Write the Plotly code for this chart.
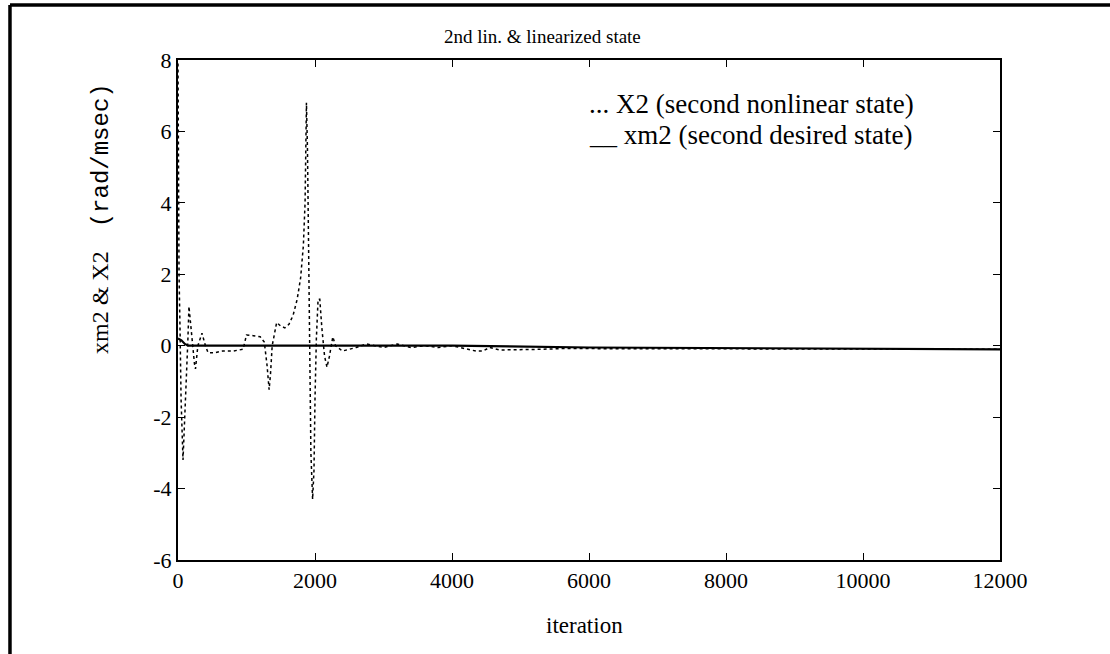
import plotly.graph_objects as go

# X2: second nonlinear state (dotted)
x2_iter = [0, 15, 30, 45, 73, 100, 125, 145, 160, 185, 210, 240, 255, 290, 350, 400, 440, 520, 650, 800,
           950, 1000, 1100, 1200, 1260, 1300, 1330, 1350, 1375, 1400, 1440, 1500, 1560, 1620, 1680, 1740,
           1790, 1830, 1855, 1875, 1890, 1905, 1915, 1925, 1940, 1965, 1985, 2000, 2020, 2045, 2070, 2100,
           2140, 2175, 2210, 2260, 2300, 2400, 2500, 2600, 2750, 3000, 3200, 3400, 3600, 3800, 4000, 4350,
           4450, 4550, 4700, 5000, 5300, 5600, 6000, 8000, 10000, 12000]
x2_vals = [7.9, 2.0, 0.4, -1.5, -3.2, -2.0, -1.0, 0.2, 1.1, 0.6, 0.0, -0.5, -0.65, 0.0, 0.35, 0.0, -0.2, -0.2, -0.15, -0.15,
           -0.1, 0.3, 0.28, 0.25, 0.1, -0.55, -1.23, -0.8, 0.0, 0.3, 0.65, 0.55, 0.5, 0.6, 0.85, 1.3,
           1.9, 2.8, 4.0, 6.8, 5.5, 3.0, 1.0, -1.0, -3.0, -4.3, -3.5, -1.5, 0.2, 1.3, 1.3, 0.5,
           -0.3, -0.6, -0.3, 0.25, 0.0, -0.15, -0.1, -0.05, 0.05, -0.05, 0.05, -0.05, 0.0, -0.05, 0.0, -0.15,
           -0.15, -0.05, -0.12, -0.12, -0.1, -0.08, -0.08, -0.08, -0.1, -0.1]

# xm2: second desired state (solid)
xm2_iter = [0, 50, 100, 150, 2000, 4000, 6000, 9000, 12000]
xm2_vals = [0.2, 0.15, 0.05, 0.0, 0.0, 0.0, -0.05, -0.08, -0.1]

x_ticks = [0, 2000, 4000, 6000, 8000, 10000, 12000]
y_ticks = [-6, -4, -2, 0, 2, 4, 6, 8]

SERIF = "Liberation Serif"

fig = go.Figure()
fig.add_trace(go.Scatter(x=x2_iter, y=x2_vals, mode="lines",
                         line=dict(color="black", width=1.5, dash="dot"),
                         showlegend=False))
fig.add_trace(go.Scatter(x=xm2_iter, y=xm2_vals, mode="lines",
                         line=dict(color="black", width=2.2),
                         showlegend=False))

axis_common = dict(showgrid=False, zeroline=False, showline=True, linecolor="black", linewidth=2,
                   mirror="ticks", ticks="inside", ticklen=7, tickwidth=1.2, tickcolor="black",
                   tickfont=dict(family=SERIF, size=22, color="black"))

fig.update_xaxes(range=[0, 12000], tickvals=x_ticks, ticktext=[str(v) for v in x_ticks], **axis_common)
fig.update_yaxes(range=[-6, 8], tickvals=y_ticks, ticktext=[str(v) for v in y_ticks], **axis_common)

annotations = [
    dict(text="2nd lin. &amp; linearized state", x=0.443, y=1.046, xref="paper", yref="paper",
         showarrow=False, font=dict(family=SERIF, size=19, color="black"), xanchor="center", yanchor="middle"),
    dict(text="iteration", x=0.495, y=-0.13, xref="paper", yref="paper",
         showarrow=False, font=dict(family=SERIF, size=23, color="black"), xanchor="center", yanchor="middle"),
    dict(text='xm2 &amp; X2&nbsp;&nbsp;&nbsp;&nbsp;<span style="font-family:Liberation Mono;font-size:24px">(rad/msec)</span>',
         x=-0.0937, y=0.684, xref="paper", yref="paper", textangle=-90,
         showarrow=False, font=dict(family=SERIF, size=24, color="black"), xanchor="center", yanchor="middle"),
    dict(text="... X2 (second nonlinear state)", x=0.4976, y=0.912, xref="paper", yref="paper",
         showarrow=False, font=dict(family=SERIF, size=27, color="black"), xanchor="left", yanchor="middle"),
    dict(text="__ xm2 (second desired state)", x=0.4976, y=0.850, xref="paper", yref="paper",
         showarrow=False, font=dict(family=SERIF, size=27, color="black"), xanchor="left", yanchor="middle"),
]

shapes = [
    dict(type="line", xref="paper", yref="paper", x0=-0.2044, x1=1.14, y0=1.110, y1=1.110,
         line=dict(color="black", width=3.5)),
    dict(type="line", xref="paper", yref="paper", x0=-0.2044, x1=-0.2044, y0=1.110, y1=-0.2,
         line=dict(color="black", width=3.5)),
]

fig.update_layout(
    width=1110, height=654,
    margin=dict(l=178, r=110, t=60, b=94),
    paper_bgcolor="white", plot_bgcolor="white",
    annotations=annotations, shapes=shapes,
    showlegend=False,
)

fig.write_html("out.html")
